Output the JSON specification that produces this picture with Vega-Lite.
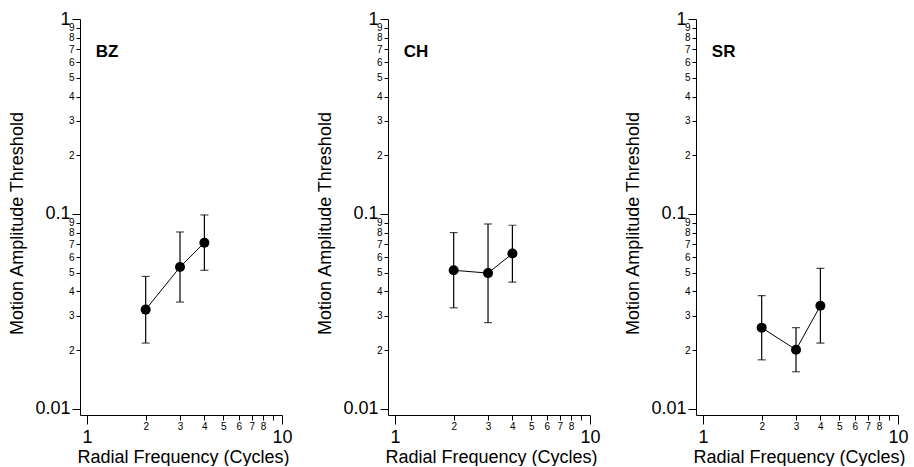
{
  "$schema": "https://vega.github.io/schema/vega-lite/v6.json",
  "padding": {"left": 8, "top": 10, "right": 0, "bottom": 0},
  "spacing": 106,
  "bounds": "flush",
  "datasets": {
    "thresholds": [
      {"subject": "BZ", "freq": 2, "thr": 0.0323, "lo": 0.02175, "hi": 0.0478},
      {"subject": "BZ", "freq": 3, "thr": 0.0534, "lo": 0.0353, "hi": 0.0808},
      {"subject": "BZ", "freq": 4, "thr": 0.0712, "lo": 0.0514, "hi": 0.0988},
      {"subject": "CH", "freq": 2, "thr": 0.0514, "lo": 0.033, "hi": 0.0802},
      {"subject": "CH", "freq": 3, "thr": 0.0497, "lo": 0.0277, "hi": 0.0888},
      {"subject": "CH", "freq": 4, "thr": 0.0626, "lo": 0.0447, "hi": 0.0875},
      {"subject": "SR", "freq": 2, "thr": 0.0261, "lo": 0.01785, "hi": 0.0381},
      {"subject": "SR", "freq": 3, "thr": 0.0201, "lo": 0.0155, "hi": 0.0261},
      {"subject": "SR", "freq": 4, "thr": 0.0338, "lo": 0.02175, "hi": 0.0526}
    ],
    "labels": [
      {"subject": "BZ", "label": "BZ"},
      {"subject": "CH", "label": "CH"},
      {"subject": "SR", "label": "SR"}
    ]
  },
  "hconcat": [
    {
      "width": 202, "height": 396,
      "layer": [
        {"data": {"name": "thresholds"}, "transform": [{"filter": "datum.subject == 'BZ'"}],
         "mark": {"type": "line", "color": "black", "strokeWidth": 1},
         "encoding": {
          "x": {"field": "freq", "type": "quantitative", "title": "Radial Frequency (Cycles)", "scale": {"type": "log", "domain": [0.921, 10], "nice": false},
            "axis": {"values": [1,2,3,4,5,6,7,8,9,10], "labelExpr": "datum.value==9?'':format(datum.value,'d')", "labelFontSize": {"expr": "datum.value==1||datum.value==10?18:10"}, "tickSize": {"condition": {"test": "datum.value==1||datum.value==10", "value": 9}, "value": 5}, "labelPadding": {"condition": {"test": "datum.value==1||datum.value==10", "value": 4}, "value": 1}, "labelBaseline": "top", "titleX": 103, "titleY": 47, "titleBaseline": "alphabetic", "titleAlign": "center"}},
          "y": {"field": "thr", "type": "quantitative", "title": "Motion Amplitude Threshold", "scale": {"type": "log", "domain": [0.0093, 1], "nice": false},
            "axis": {"values": [0.01,0.02,0.03,0.04,0.05,0.06,0.07,0.08,0.09,0.1,0.2,0.3,0.4,0.5,0.6,0.7,0.8,0.9,1], "labelExpr": "datum.value==1?'1':datum.value==0.1?'0.1':datum.value==0.01?'0.01':format(datum.value<0.1?datum.value*100:datum.value*10,'.0f')", "labelFontSize": {"expr": "datum.value==1||datum.value==0.1||datum.value==0.01?18:10"}, "tickSize": {"condition": {"test": "datum.value==1||datum.value==0.1||datum.value==0.01", "value": 8}, "value": 4}, "labelPadding": 2, "labelBaseline": "middle", "titleAngle": -90, "titleX": -58, "titleY": 204, "titleBaseline": "alphabetic", "titleAlign": "center"}}
         }},
        {"data": {"name": "thresholds"}, "transform": [{"filter": "datum.subject == 'BZ'"}],
         "mark": {"type": "rule", "color": "black", "strokeWidth": 1.2},
         "encoding": {"x": {"field": "freq", "type": "quantitative", "title": "Radial Frequency (Cycles)"}, "y": {"field": "lo", "type": "quantitative", "title": "Motion Amplitude Threshold"}, "y2": {"field": "hi"}}},
        {"data": {"name": "thresholds"}, "transform": [{"filter": "datum.subject == 'BZ'"}],
         "mark": {"type": "tick", "orient": "horizontal", "color": "black", "size": 8, "thickness": 1.2},
         "encoding": {"x": {"field": "freq", "type": "quantitative", "title": "Radial Frequency (Cycles)"}, "y": {"field": "lo", "type": "quantitative", "title": "Motion Amplitude Threshold"}}},
        {"data": {"name": "thresholds"}, "transform": [{"filter": "datum.subject == 'BZ'"}],
         "mark": {"type": "tick", "orient": "horizontal", "color": "black", "size": 8, "thickness": 1.2},
         "encoding": {"x": {"field": "freq", "type": "quantitative", "title": "Radial Frequency (Cycles)"}, "y": {"field": "hi", "type": "quantitative", "title": "Motion Amplitude Threshold"}}},
        {"data": {"name": "thresholds"}, "transform": [{"filter": "datum.subject == 'BZ'"}],
         "mark": {"type": "point", "filled": true, "shape": "circle", "size": 100, "color": "black", "opacity": 1},
         "encoding": {"x": {"field": "freq", "type": "quantitative", "title": "Radial Frequency (Cycles)"}, "y": {"field": "thr", "type": "quantitative", "title": "Motion Amplitude Threshold"}}},
        {"data": {"name": "labels"}, "transform": [{"filter": "datum.subject == 'BZ'"}],
         "mark": {"type": "text", "font": "Liberation Sans", "fontWeight": "bold", "fontSize": 17, "align": "left", "baseline": "alphabetic", "color": "black"},
         "encoding": {"x": {"datum": 1.11, "type": "quantitative", "title": "Radial Frequency (Cycles)"}, "y": {"datum": 0.639, "type": "quantitative", "title": "Motion Amplitude Threshold"}, "text": {"field": "label"}}}
      ]
    },
    {
      "width": 202, "height": 396,
      "layer": [
        {"data": {"name": "thresholds"}, "transform": [{"filter": "datum.subject == 'CH'"}],
         "mark": {"type": "line", "color": "black", "strokeWidth": 1},
         "encoding": {
          "x": {"field": "freq", "type": "quantitative", "title": "Radial Frequency (Cycles)", "scale": {"type": "log", "domain": [0.921, 10], "nice": false},
            "axis": {"values": [1,2,3,4,5,6,7,8,9,10], "labelExpr": "datum.value==9?'':format(datum.value,'d')", "labelFontSize": {"expr": "datum.value==1||datum.value==10?18:10"}, "tickSize": {"condition": {"test": "datum.value==1||datum.value==10", "value": 9}, "value": 5}, "labelPadding": {"condition": {"test": "datum.value==1||datum.value==10", "value": 4}, "value": 1}, "labelBaseline": "top", "titleX": 103, "titleY": 47, "titleBaseline": "alphabetic", "titleAlign": "center"}},
          "y": {"field": "thr", "type": "quantitative", "title": "Motion Amplitude Threshold", "scale": {"type": "log", "domain": [0.0093, 1], "nice": false},
            "axis": {"values": [0.01,0.02,0.03,0.04,0.05,0.06,0.07,0.08,0.09,0.1,0.2,0.3,0.4,0.5,0.6,0.7,0.8,0.9,1], "labelExpr": "datum.value==1?'1':datum.value==0.1?'0.1':datum.value==0.01?'0.01':format(datum.value<0.1?datum.value*100:datum.value*10,'.0f')", "labelFontSize": {"expr": "datum.value==1||datum.value==0.1||datum.value==0.01?18:10"}, "tickSize": {"condition": {"test": "datum.value==1||datum.value==0.1||datum.value==0.01", "value": 8}, "value": 4}, "labelPadding": 2, "labelBaseline": "middle", "titleAngle": -90, "titleX": -58, "titleY": 204, "titleBaseline": "alphabetic", "titleAlign": "center"}}
         }},
        {"data": {"name": "thresholds"}, "transform": [{"filter": "datum.subject == 'CH'"}],
         "mark": {"type": "rule", "color": "black", "strokeWidth": 1.2},
         "encoding": {"x": {"field": "freq", "type": "quantitative", "title": "Radial Frequency (Cycles)"}, "y": {"field": "lo", "type": "quantitative", "title": "Motion Amplitude Threshold"}, "y2": {"field": "hi"}}},
        {"data": {"name": "thresholds"}, "transform": [{"filter": "datum.subject == 'CH'"}],
         "mark": {"type": "tick", "orient": "horizontal", "color": "black", "size": 8, "thickness": 1.2},
         "encoding": {"x": {"field": "freq", "type": "quantitative", "title": "Radial Frequency (Cycles)"}, "y": {"field": "lo", "type": "quantitative", "title": "Motion Amplitude Threshold"}}},
        {"data": {"name": "thresholds"}, "transform": [{"filter": "datum.subject == 'CH'"}],
         "mark": {"type": "tick", "orient": "horizontal", "color": "black", "size": 8, "thickness": 1.2},
         "encoding": {"x": {"field": "freq", "type": "quantitative", "title": "Radial Frequency (Cycles)"}, "y": {"field": "hi", "type": "quantitative", "title": "Motion Amplitude Threshold"}}},
        {"data": {"name": "thresholds"}, "transform": [{"filter": "datum.subject == 'CH'"}],
         "mark": {"type": "point", "filled": true, "shape": "circle", "size": 100, "color": "black", "opacity": 1},
         "encoding": {"x": {"field": "freq", "type": "quantitative", "title": "Radial Frequency (Cycles)"}, "y": {"field": "thr", "type": "quantitative", "title": "Motion Amplitude Threshold"}}},
        {"data": {"name": "labels"}, "transform": [{"filter": "datum.subject == 'CH'"}],
         "mark": {"type": "text", "font": "Liberation Sans", "fontWeight": "bold", "fontSize": 17, "align": "left", "baseline": "alphabetic", "color": "black"},
         "encoding": {"x": {"datum": 1.11, "type": "quantitative", "title": "Radial Frequency (Cycles)"}, "y": {"datum": 0.639, "type": "quantitative", "title": "Motion Amplitude Threshold"}, "text": {"field": "label"}}}
      ]
    },
    {
      "width": 202, "height": 396,
      "layer": [
        {"data": {"name": "thresholds"}, "transform": [{"filter": "datum.subject == 'SR'"}],
         "mark": {"type": "line", "color": "black", "strokeWidth": 1},
         "encoding": {
          "x": {"field": "freq", "type": "quantitative", "title": "Radial Frequency (Cycles)", "scale": {"type": "log", "domain": [0.921, 10], "nice": false},
            "axis": {"values": [1,2,3,4,5,6,7,8,9,10], "labelExpr": "datum.value==9?'':format(datum.value,'d')", "labelFontSize": {"expr": "datum.value==1||datum.value==10?18:10"}, "tickSize": {"condition": {"test": "datum.value==1||datum.value==10", "value": 9}, "value": 5}, "labelPadding": {"condition": {"test": "datum.value==1||datum.value==10", "value": 4}, "value": 1}, "labelBaseline": "top", "titleX": 103, "titleY": 47, "titleBaseline": "alphabetic", "titleAlign": "center"}},
          "y": {"field": "thr", "type": "quantitative", "title": "Motion Amplitude Threshold", "scale": {"type": "log", "domain": [0.0093, 1], "nice": false},
            "axis": {"values": [0.01,0.02,0.03,0.04,0.05,0.06,0.07,0.08,0.09,0.1,0.2,0.3,0.4,0.5,0.6,0.7,0.8,0.9,1], "labelExpr": "datum.value==1?'1':datum.value==0.1?'0.1':datum.value==0.01?'0.01':format(datum.value<0.1?datum.value*100:datum.value*10,'.0f')", "labelFontSize": {"expr": "datum.value==1||datum.value==0.1||datum.value==0.01?18:10"}, "tickSize": {"condition": {"test": "datum.value==1||datum.value==0.1||datum.value==0.01", "value": 8}, "value": 4}, "labelPadding": 2, "labelBaseline": "middle", "titleAngle": -90, "titleX": -58, "titleY": 204, "titleBaseline": "alphabetic", "titleAlign": "center"}}
         }},
        {"data": {"name": "thresholds"}, "transform": [{"filter": "datum.subject == 'SR'"}],
         "mark": {"type": "rule", "color": "black", "strokeWidth": 1.2},
         "encoding": {"x": {"field": "freq", "type": "quantitative", "title": "Radial Frequency (Cycles)"}, "y": {"field": "lo", "type": "quantitative", "title": "Motion Amplitude Threshold"}, "y2": {"field": "hi"}}},
        {"data": {"name": "thresholds"}, "transform": [{"filter": "datum.subject == 'SR'"}],
         "mark": {"type": "tick", "orient": "horizontal", "color": "black", "size": 8, "thickness": 1.2},
         "encoding": {"x": {"field": "freq", "type": "quantitative", "title": "Radial Frequency (Cycles)"}, "y": {"field": "lo", "type": "quantitative", "title": "Motion Amplitude Threshold"}}},
        {"data": {"name": "thresholds"}, "transform": [{"filter": "datum.subject == 'SR'"}],
         "mark": {"type": "tick", "orient": "horizontal", "color": "black", "size": 8, "thickness": 1.2},
         "encoding": {"x": {"field": "freq", "type": "quantitative", "title": "Radial Frequency (Cycles)"}, "y": {"field": "hi", "type": "quantitative", "title": "Motion Amplitude Threshold"}}},
        {"data": {"name": "thresholds"}, "transform": [{"filter": "datum.subject == 'SR'"}],
         "mark": {"type": "point", "filled": true, "shape": "circle", "size": 100, "color": "black", "opacity": 1},
         "encoding": {"x": {"field": "freq", "type": "quantitative", "title": "Radial Frequency (Cycles)"}, "y": {"field": "thr", "type": "quantitative", "title": "Motion Amplitude Threshold"}}},
        {"data": {"name": "labels"}, "transform": [{"filter": "datum.subject == 'SR'"}],
         "mark": {"type": "text", "font": "Liberation Sans", "fontWeight": "bold", "fontSize": 17, "align": "left", "baseline": "alphabetic", "color": "black"},
         "encoding": {"x": {"datum": 1.11, "type": "quantitative", "title": "Radial Frequency (Cycles)"}, "y": {"datum": 0.639, "type": "quantitative", "title": "Motion Amplitude Threshold"}, "text": {"field": "label"}}}
      ]
    }
  ],
  "config": {
    "view": {"stroke": null},
    "font": "Liberation Sans",
    "axis": {"grid": false, "domainColor": "black", "tickColor": "black", "labelColor": "black", "titleColor": "black", "labelFont": "Liberation Sans", "titleFont": "Liberation Sans", "titleFontWeight": "normal", "titleFontSize": 18, "labelOverlap": false, "labelFlush": false, "labelBound": false, "domainWidth": 1, "tickWidth": 1}
  }
}
